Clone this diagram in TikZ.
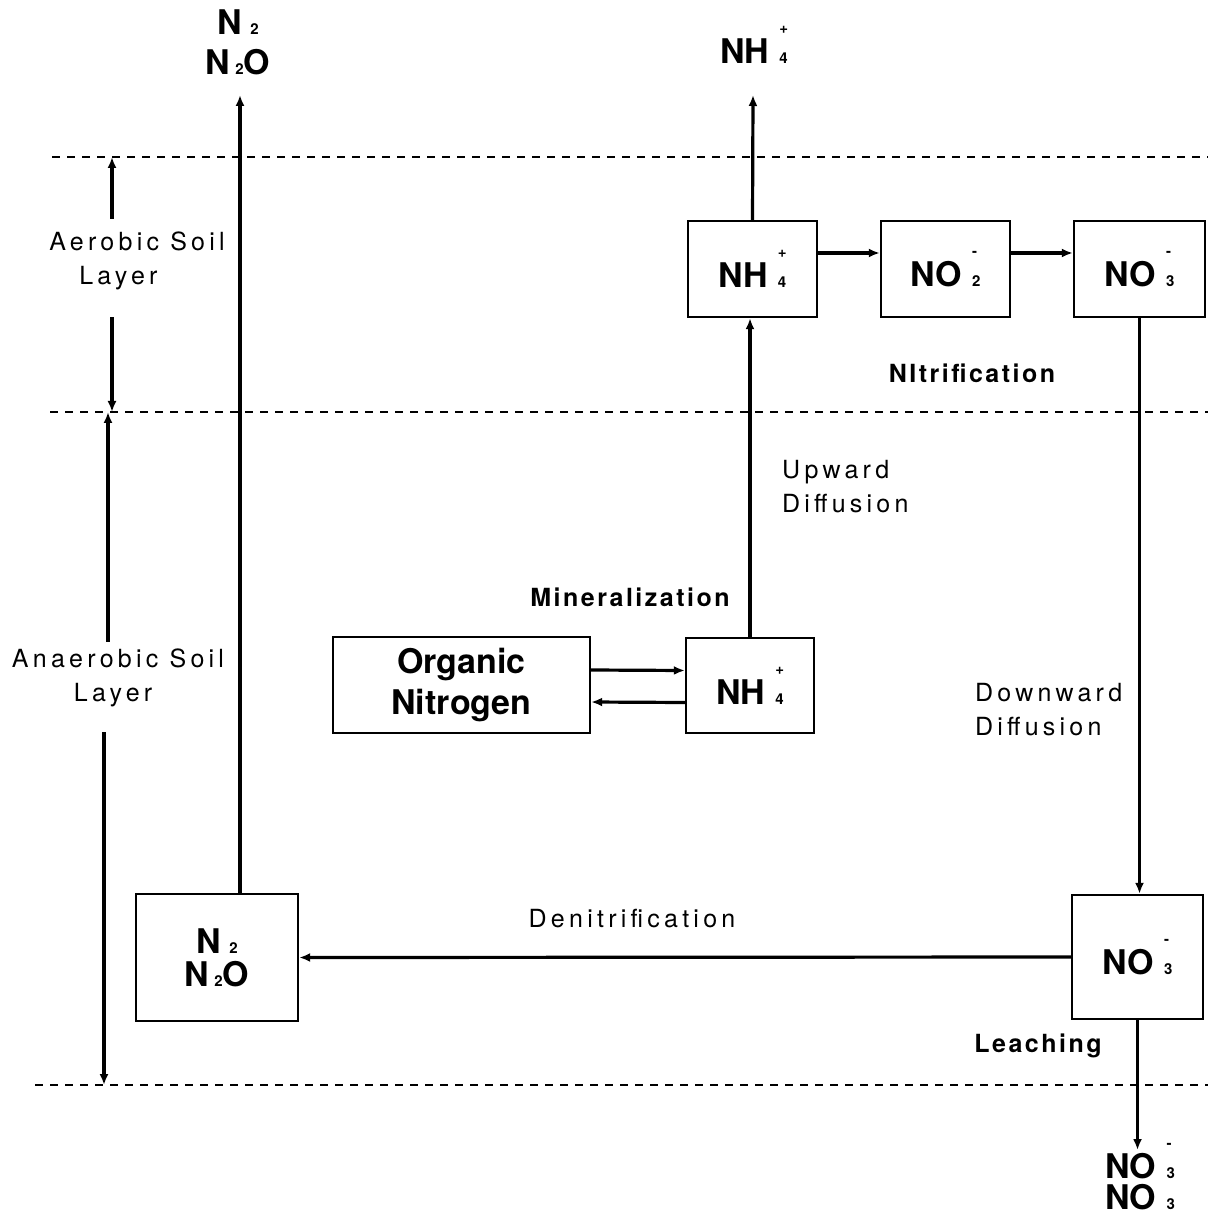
\documentclass[tikz,border=0pt]{standalone}
\usepackage{fontspec}
\setmainfont{TeX Gyre Heros}
\usepackage{tikz}
\usetikzlibrary{arrows.meta, positioning}

\newcommand{\chemsmall}{\fontsize{7.5}{7.5}\selectfont}
\newcommand{\chemion}[3]{#1\hspace{0.3em}\rlap{\raisebox{15pt}{\chemsmall #3}}{\chemsmall #2}}
\newcommand{\chemsub}[3]{#1\hspace{#3}{\chemsmall #2}}

\tikzstyle{arrow} = [-{Latex[length=5.5pt, width=4.5pt]}, line width=1.6pt]
\tikzset{
    poolbox/.style={draw, line width=1.2pt, inner sep=0pt, align=center,
        font=\fontsize{17}{20.5}\selectfont\bfseries},
    chemlabel/.style={inner sep=1pt, align=center,
        font=\fontsize{17}{20}\selectfont\bfseries},
    proclabel/.style={align=center,
        font=\fontsize{12.5}{17}\selectfont\addfontfeature{LetterSpace=17}},
    procbold/.style={font=\fontsize{12.5}{17}\selectfont\bfseries\addfontfeature{LetterSpace=10}},
    layerline/.style={dash pattern=on 4pt off 3.5pt, line width=0.8pt},
}

\begin{document}
\begin{tikzpicture}[x=0.5pt, y=-0.5pt]
    \useasboundingbox (0,0) rectangle (1208,1218);

    % soil layer boundaries
    \draw[layerline] (52,157) -- (1208,157);
    \draw[layerline] (50,412) -- (1208,412);
    \draw[layerline] (35,1085) -- (1208,1085);

    % layer labels and extents
    \node[proclabel, align=left] (aerolbl) at (137,261) {Aerobic Soil\\\hspace*{15pt}Layer};
    \node[proclabel, align=left] (anaerolbl) at (118,678) {Anaerobic Soil\\\hspace*{31pt}Layer};
    \coordinate (aerotop) at (112,157);
    \coordinate (aerobot) at (112,412);
    \coordinate (anaerotop) at (108,412);
    \coordinate (anaerobot) at (104,1085);
    \draw[arrow, shorten <=3pt] (aerolbl.north -| aerotop) -- (aerotop);
    \draw[arrow, shorten <=10pt] (aerolbl.south -| aerobot) -- (aerobot);
    \draw[arrow] (anaerolbl.north -| anaerotop) -- (anaerotop);
    \draw[arrow, shorten <=9pt] (anaerolbl.south -| anaerobot) -- (anaerobot);

    % nitrogen pools
    \node[poolbox, minimum width=64.5pt, minimum height=48pt] (nhtop) at (752.5,269) {\chemion{NH}{4}{+}};
    \node[poolbox, minimum width=64.5pt, minimum height=48pt] (notwo) at (945.5,269) {\chemion{NO}{2}{-}};
    \node[poolbox, minimum width=65.5pt, minimum height=48pt] (nothree) at (1139.5,269) {\chemion{NO}{3}{-}};
    \node[poolbox, minimum width=128.5pt, minimum height=48pt] (organic) at (461.5,685) {Organic\\Nitrogen};
    \node[poolbox, minimum width=64pt, minimum height=47.5pt] (nhlow) at (750,685.5) {\chemion{NH}{4}{+}};
    \node[poolbox, minimum width=81pt, minimum height=63.5pt, font=\fontsize{17}{16.5}\selectfont\bfseries]
        (nitro) at (217,957.5) {\chemsub{N}{2}{0.25em}\\\chemsub{N}{2}{0.15em}O};
    \node[poolbox, minimum width=65.5pt, minimum height=62pt] (nolow) at (1137.5,957) {\chemion{NO}{3}{-}};

    % escaping and leached forms
    \node[chemlabel] (gasair) at (238,42) {\chemsub{N}{2}{0.25em}\\\chemsub{N}{2}{0.15em}O};
    \node[chemlabel, anchor=base] (nhair) at (754,64) {\chemion{NH}{4}{+}};
    \node[chemlabel, font=\fontsize{17}{15.5}\selectfont\bfseries] (noleach) at (1140,1177)
        {\chemion{NO}{3}{-}\\\chemsub{NO}{3}{0.3em}};
    \coordinate (gasend) at (240,95);
    \coordinate (nhend) at (753,95);
    \coordinate (leachend) at (1135,1150);

    % transfers
    \draw[arrow] (nitro.north -| gasend) -- (gasend);
    \draw[arrow] (nhtop.north) -- (nhend);
    \draw[arrow] ([yshift=8pt]nhtop.east) -- ([yshift=8pt]notwo.west);
    \draw[arrow] ([yshift=8pt]notwo.east) -- ([yshift=8pt]nothree.west);
    \draw[arrow] (nothree.south) -- (nothree.south |- nolow.north);
    \draw[arrow] (nhlow.north) -- (nhlow.north |- nhtop.south);
    \draw[arrow] ([yshift=7.5pt]organic.east) -- ([yshift=7.5pt]nhlow.west);
    \draw[arrow] ([yshift=-8.5pt]nhlow.west) -- ([yshift=-8.5pt]organic.east);
    \draw[arrow] (nolow.west) -- (nitro.east);
    \draw[arrow] (nolow.south) -- (nolow.south |- leachend);

    % process names
    \node[procbold] (nitrif) at (972,373) {NItrification};
    \node[proclabel, align=left, anchor=west] (updiff) at (775,487) {Upward\\Diffusion};
    \node[procbold] (mineral) at (630,597) {Mineralization};
    \node[proclabel, align=left, anchor=west] (downdiff) at (968,710) {Downward\\Diffusion};
    \node[proclabel] (denitrif) at (632,919) {Denitrification};
    \node[procbold] (leach) at (1038,1046) {Leaching};
\end{tikzpicture}
\end{document}
